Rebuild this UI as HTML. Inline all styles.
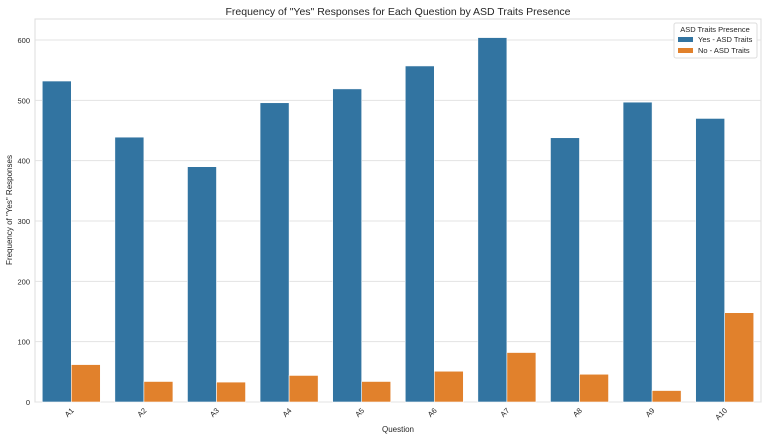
<!DOCTYPE html>
<html><head><meta charset="utf-8"><style>
body{margin:0;background:#fff;font-family:"Liberation Sans",sans-serif}
svg text{font-family:"Liberation Sans",sans-serif;fill:#262626}
</style></head><body>
<svg id="chart" width="768" height="440" xmlns="http://www.w3.org/2000/svg">
<text x="398" y="15" text-anchor="middle" font-size="10.5">Frequency of "Yes" Responses for Each Question by ASD Traits Presence</text>
<rect x="35" y="19" width="726" height="383" fill="#fff" stroke="#dcdcdc" stroke-width="1"/>
<g id="grid"></g><g id="bars"></g><g id="xt"></g>
<text x="398" y="432" text-anchor="middle" font-size="8">Question</text>
<text transform="translate(12,210) rotate(-90)" text-anchor="middle" font-size="8">Frequency of "Yes" Responses</text>
<g>
<rect x="674" y="23" width="83" height="35" fill="#fff" stroke="#dcdcdc" rx="2"/>
<text x="715" y="32" text-anchor="middle" font-size="7.5">ASD Traits Presence</text>
<rect x="678" y="37" width="15" height="5" fill="#3274a1"/>
<text x="698" y="42" font-size="7.5">Yes - ASD Traits</text>
<rect x="678" y="48" width="15" height="5" fill="#e1812c"/>
<text x="698" y="53" font-size="7.5">No - ASD Traits</text>
</g>
</svg>
<script>
const categories=["A1","A2","A3","A4","A5","A6","A7","A8","A9","A10"];
const yesValues=[532,439,390,496,519,557,604,438,497,470];
const noValues=[62,34,33,44,34,51,82,46,19,148];
const yTicks=[0,100,200,300,400,500,600];
const NS="http://www.w3.org/2000/svg";
const L=35,R=761,B=402,T=19;
const y=v=>B-v*(B-40)/600;
const band=(R-L)/categories.length;
const xc=i=>L+band*(i+0.5);
const bw=band*0.4;
function mk(t,a,p){const e=document.createElementNS(NS,t);for(const k in a)e.setAttribute(k,a[k]);p.appendChild(e);return e;}
const grid=document.getElementById('grid'),bars=document.getElementById('bars'),xt=document.getElementById('xt');
yTicks.forEach(v=>{
 const l=mk('line',{x1:L,x2:R,y1:y(v),y2:y(v),stroke:'#e3e3e3','stroke-width':1},grid);
 
 
 const t=mk('text',{x:L-5,y:y(v)+3,'text-anchor':'end','font-size':'7.5'},grid);
 t.textContent=v;
 
 
});
categories.forEach((c,i)=>{
 const b1=mk('rect',{x:xc(i)-bw,y:y(yesValues[i]),width:bw,height:B-y(yesValues[i]),fill:'#3274a1',stroke:'#fff','stroke-width':0.6},bars);
 
 
 const b2=mk('rect',{x:xc(i),y:y(noValues[i]),width:bw,height:B-y(noValues[i]),fill:'#e1812c',stroke:'#fff','stroke-width':0.6},bars);
 
 
 const t=mk('text',{transform:`translate(${xc(i)+3},${B+9}) rotate(-45)`,'text-anchor':'end','font-size':'7.5'},xt);
 t.textContent=c;
 
 
});
</script>
</body></html>
